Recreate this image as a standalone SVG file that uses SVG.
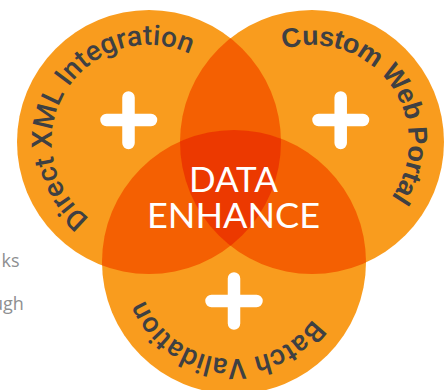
<svg xmlns="http://www.w3.org/2000/svg" width="448" height="390" viewBox="0 0 448 390">
<style>
.c{fill:#f99c1e}.o{fill:#f46002}.m{fill:#ec3900}
.l{font-family:"Roboto","Liberation Sans",sans-serif;font-weight:500;font-size:28px;fill:#3e4043}
.r{font-family:"Liberation Sans",sans-serif;font-weight:700;font-size:27px;fill:#3e4043}
.p{fill:none;stroke:#fff;stroke-width:12.500;stroke-linecap:round}
.t{font-family:"Lato","Noto Sans",sans-serif;font-size:34px;fill:#fff;text-anchor:middle}
.g{font-family:"Open Sans","Noto Sans",sans-serif;font-size:18px;fill:#8e8f91}
</style>
<defs>
<clipPath id="cl"><circle cx="149" cy="142" r="132"/></clipPath>
<clipPath id="cr"><circle cx="312" cy="142" r="132"/></clipPath>
<path id="al" d="M89.300 218.400A97 97 0 1 1 211.400 67.700"/>
<path id="ar" d="M283.600 49.200A97 97 0 1 1 312 239"/>
<path id="ab" d="M312.500 319A97 97 0 0 1 150 213.500"/>
</defs>
<text class="g" x="1.500" y="267">ks</text>
<text class="g" x="-8" y="310">ugh</text>
<g id="circle-left"><circle class="c" cx="149" cy="142" r="132"/></g>
<g id="circle-right"><circle class="c" cx="312" cy="142" r="132"/></g>
<g id="circle-bottom"><circle class="c" cx="234" cy="262" r="132"/></g>
<g id="overlaps">
<g clip-path="url(#cl)"><circle class="o" cx="312" cy="142" r="132"/><circle class="o" cx="234" cy="262" r="132"/></g>
<g clip-path="url(#cr)"><circle class="o" cx="234" cy="262" r="132"/></g>
<g clip-path="url(#cl)"><g clip-path="url(#cr)"><circle class="m" cx="234" cy="262" r="132"/></g></g>
</g>
<g id="label-left"><text class="l"><textPath href="#al" textLength="283">Direct XML Integration</textPath></text>
<path class="p" d="M106.500 120H151M128.500 97.500V143"/></g>
<g id="label-right"><text class="r"><textPath href="#ar" textLength="240">Custom Web Portal</textPath></text>
<path class="p" d="M318.500 120H363M340.700 97.500V143"/></g>
<g id="label-bottom"><text class="l"><textPath href="#ab" textLength="205">Batch Validation</textPath></text>
<path class="p" d="M211.500 301H256.500M234 278.500V323.500"/></g>
<g id="center"><text class="t" x="233.500" y="192" textLength="89" lengthAdjust="spacingAndGlyphs">DATA</text><text class="t" x="233.500" y="228" textLength="173" lengthAdjust="spacingAndGlyphs">ENHANCE</text></g>
</svg>
